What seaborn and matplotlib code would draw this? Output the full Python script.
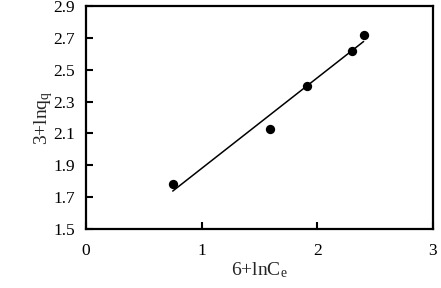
import numpy as np
import pandas as pd
import seaborn as sns
import matplotlib.pyplot as plt

# values
x_vals = [0.75, 1.59, 1.91, 2.30, 2.40]
y_vals = [1.78, 2.13, 2.40, 2.62, 2.72]
x_ticks = [0, 1, 2, 3]
y_ticks = [1.5, 1.7, 1.9, 2.1, 2.3, 2.5, 2.7, 2.9]

df = pd.DataFrame({'x': x_vals, 'y': y_vals})

sns.set_style('ticks')
plt.rcParams['font.family'] = ['Liberation Serif', 'DejaVu Serif']
plt.rcParams['mathtext.fontset'] = 'custom'
plt.rcParams['mathtext.rm'] = 'Liberation Serif'
plt.rcParams['mathtext.it'] = 'Liberation Serif'

fig = plt.figure(figsize=(4.41, 2.88), dpi=100)
ax = fig.add_axes([86 / 441, 1 - 229 / 288, (433 - 86) / 441, (229 - 6) / 288])

sns.regplot(data=df, x='x', y='y', ci=None, ax=ax,
            scatter_kws=dict(s=45, color='black', alpha=1, zorder=3, linewidths=0),
            line_kws=dict(color='black', lw=1.1))

ax.set_xlim(0, 3)
ax.set_ylim(1.5, 2.9)
ax.set_xticks(x_ticks)
ax.set_yticks(y_ticks)
ax.set_yticklabels([f'{v:.1f}' for v in y_ticks])
ax.tick_params(direction='in', length=5, width=1.5, labelsize=12.5,
               colors='black', pad=8)
ax.tick_params(axis='x', pad=10)
for s in ax.spines.values():
    s.set_visible(True)
    s.set_linewidth(1.6)
    s.set_color('black')

ax.set_xlabel('6+lnC$_\\mathregular{e}$', fontsize=14, labelpad=1)
ax.set_ylabel('3+lnq$_\\mathregular{q}$', fontsize=14, labelpad=-1)

fig.savefig('out.png', dpi=100)
